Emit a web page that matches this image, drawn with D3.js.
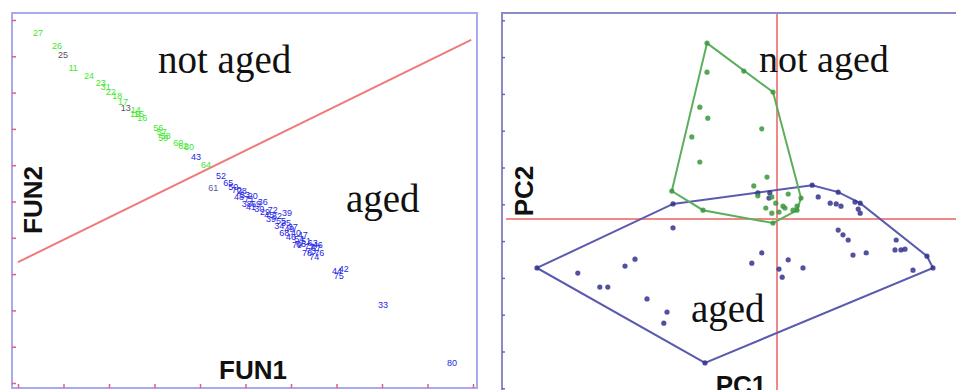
<!DOCTYPE html>
<html>
<head>
<meta charset="utf-8">
<script src="https://cdn.jsdelivr.net/npm/d3@7"></script>
<style>
  body { margin: 0; background: #fff; }
  svg { display: block; }
</style>
</head>
<body>
<div id="zone_graphique"></div>
<script>
// ---- donnees : panneau gauche (analyse discriminante) ----
var fun1NonVieilli = [0.44, 0.86, 0.99, 1.21, 1.56, 1.82, 1.93, 2.04, 2.18, 2.31, 2.37, 2.59, 2.66, 2.73, 2.57, 3.08, 3.16, 3.25, 3.19, 3.52, 3.63, 3.76, 4.13];
var fun2NonVieilli = [9.64, 9.28, 9.04, 8.68, 8.46, 8.26, 8.15, 8.02, 7.91, 7.74, 7.58, 7.52, 7.41, 7.30, 7.41, 7.02, 6.91, 6.80, 6.75, 6.61, 6.53, 6.50, 6.01];
var nomsNonVieilli = ["27", "26", "25", "11", "24", "23", "31", "22", "18", "17", "13", "14", "15", "16", "19", "56", "57", "58", "59", "60", "62", "80", "64"];
var grisNonVieilli = ["25", "13"];

var fun1Vieilli = [3.91, 4.46, 4.29, 4.62, 4.73, 4.81, 4.92, 4.99, 4.86, 5.08, 5.16, 5.03, 5.12, 5.23, 5.30, 5.38, 5.43, 5.52, 5.60, 5.56, 5.69, 5.78, 5.74, 5.89, 5.96, 5.85, 6.04, 6.11, 6.00, 6.18, 6.26, 6.22, 6.33, 6.40, 6.48, 6.44, 6.55, 6.62, 6.35, 6.51, 6.13, 5.91, 6.59, 7.01, 7.16, 7.05, 8.02, 9.54];
var fun2Vieilli = [6.23, 5.70, 5.37, 5.51, 5.40, 5.32, 5.29, 5.18, 5.12, 5.07, 5.15, 4.93, 4.85, 4.93, 4.79, 4.99, 4.71, 4.63, 4.77, 4.52, 4.60, 4.46, 4.33, 4.41, 4.24, 4.13, 4.30, 4.13, 4.02, 3.97, 4.08, 3.83, 3.91, 3.75, 3.86, 3.64, 3.72, 3.58, 3.58, 3.47, 3.80, 4.68, 3.80, 3.09, 3.14, 2.95, 2.15, 0.55];
var nomsVieilli = ["43", "52", "61", "65", "50", "70", "28", "53", "48", "71", "20", "38", "41", "69", "30", "36", "29", "45", "72", "39", "32", "55", "34", "35", "49", "68", "37", "40", "46", "54", "47", "66", "51", "77", "63", "73", "67", "76", "78", "74", "79", "39", "46", "44", "42", "75", "33", "80"];

// droite de separation
var ligneFun1 = [0, 9.96];
var ligneFun2 = [3.33, 9.45];

var graduationsFun1 = [0, 1, 2, 3, 4, 5, 6, 7, 8, 9, 10];
var graduationsFun2 = [0, 1, 2, 3, 4, 5, 6, 7, 8, 9, 10];

// ---- donnees : panneau droit (ACP) ----
var pc1Enveloppe1 = [-1.75, -0.10, 0.60, 0.50, -0.10, -1.85, -2.63];
var pc2Enveloppe1 = [4.78, 3.45, 0.57, 0.24, -0.11, 0.24, 0.76];
var pc1Points1 = [-1.75, -0.83, -1.93, -1.73, -0.38, -2.13, -1.93, -0.25, -0.58, -0.48, -0.13, 0.28, -0.13, 0.05, 0.15, 0.20, 0.40, 0.50, -0.28, -0.03];
var pc2Points1 = [3.99, 4.02, 3.04, 2.74, 2.45, 2.23, 1.55, 1.14, 0.90, 0.63, 0.60, 0.68, 0.16, 0.19, 0.35, 0.30, 0.24, 0.35, 0.30, 0.43];

var pc1Enveloppe2 = [-6.00, -2.60, 0.88, 1.53, 2.08, 3.75, 3.90, -1.80];
var pc2Enveloppe2 = [-1.33, 0.41, 0.92, 0.73, 0.43, -1.01, -1.33, -3.91];
var pc1Points2 = [-2.60, -4.98, -3.80, -3.55, -4.43, -4.23, -3.25, -2.75, -2.83, -0.63, -0.38, 0.05, 0.13, 0.28, 0.65, 1.03, 1.33, 1.48, 1.60, 1.95, 2.03, 2.08, 1.53, 1.65, 1.78, 1.90, 2.23, 2.98, 2.95, 3.10, 3.20, 3.40, -0.48, -0.18, -0.20];
var pc2Points2 = [-0.24, -1.47, -1.28, -1.09, -1.85, -1.85, -2.17, -2.53, -2.83, -1.20, -0.92, -1.36, -1.58, -1.11, -1.33, 0.60, 0.43, 0.41, 0.35, 0.46, 0.27, 0.16, -0.30, -0.43, -0.57, -0.98, -0.92, -0.57, -0.84, -0.84, -0.82, -1.39, 0.71, 0.71, 0.57];

var graduationsPc2 = [-4.6, -3.6, -2.6, -1.6, -0.6, 0.4, 1.4, 2.4, 3.4, 4.4, 5.4];

var largeur = 956;
var hauteur = 390;

var svg = d3.select("#zone_graphique")
    .append("svg")
        .attr("width", largeur)
        .attr("height", hauteur);

// =================== panneau gauche ===================
var xG = d3.scaleLinear().domain([0, 10]).range([18, 473]);
var yG = d3.scaleLinear().domain([0, 10]).range([383, 20]);

svg.append("defs").append("clipPath")
    .attr("id", "clipG")
    .append("rect")
        .attr("x", 12).attr("y", 13)
        .attr("width", 465).attr("height", 376);

var gauche = svg.append("g");

gauche.append("rect")
    .attr("x", 12).attr("y", 13)
    .attr("width", 465).attr("height", 375)
    .attr("fill", "none")
    .attr("stroke", "#a9a9ee")
    .attr("stroke-width", 2);

// petites graduations rouges
gauche.append("g")
    .attr("transform", "translate(12,0)")
    .call(d3.axisRight(yG).tickValues(graduationsFun2).tickSize(4).tickFormat(""))
    .call(function (g) { g.select(".domain").remove(); })
    .selectAll("line").attr("stroke", "#e0607a").attr("stroke-width", 1.5);

gauche.append("g")
    .attr("transform", "translate(0,388)")
    .call(d3.axisTop(xG).tickValues(graduationsFun1).tickSize(4).tickFormat(""))
    .call(function (g) { g.select(".domain").remove(); })
    .selectAll("line").attr("stroke", "#e0607a").attr("stroke-width", 1.5);

var nuageG = gauche.append("g").attr("clip-path", "url(#clipG)");

nuageG.append("line")
    .attr("x1", xG(ligneFun1[0])).attr("y1", yG(ligneFun2[0]))
    .attr("x2", xG(ligneFun1[1])).attr("y2", yG(ligneFun2[1]))
    .attr("stroke", "#f07a7a")
    .attr("stroke-width", 2);

nuageG.selectAll("text.vert")
    .data(d3.range(fun1NonVieilli.length))
    .enter()
    .append("text")
        .attr("class", "vert")
        .attr("x", function (i) { return xG(fun1NonVieilli[i]); })
        .attr("y", function (i) { return yG(fun2NonVieilli[i]) + 3; })
        .attr("text-anchor", "middle")
        .attr("font-family", "Liberation Sans, Arial, sans-serif")
        .attr("font-size", "9px")
        .attr("fill", function (i) { return grisNonVieilli.indexOf(nomsNonVieilli[i]) >= 0 ? "#555" : "#3ee82a"; })
        .text(function (i) { return nomsNonVieilli[i]; });

nuageG.selectAll("text.bleu")
    .data(d3.range(fun1Vieilli.length))
    .enter()
    .append("text")
        .attr("class", "bleu")
        .attr("x", function (i) { return xG(fun1Vieilli[i]); })
        .attr("y", function (i) { return yG(fun2Vieilli[i]) + 3; })
        .attr("text-anchor", "middle")
        .attr("font-family", "Liberation Sans, Arial, sans-serif")
        .attr("font-size", "9px")
        .attr("fill", function (i) { return nomsVieilli[i] === "61" ? "#5a5aa0" : "#2424e6"; })
        .text(function (i) { return nomsVieilli[i]; });

gauche.append("text")
    .attr("x", 158).attr("y", 73)
    .attr("font-family", "Liberation Serif, Times New Roman, serif")
    .attr("font-size", "39px")
    .attr("fill", "#111")
    .text("not aged");

gauche.append("text")
    .attr("x", 346).attr("y", 212)
    .attr("font-family", "Liberation Serif, Times New Roman, serif")
    .attr("font-size", "39px")
    .attr("fill", "#111")
    .text("aged");

gauche.append("text")
    .attr("x", 253).attr("y", 379)
    .attr("text-anchor", "middle")
    .attr("font-family", "Liberation Sans, Arial, sans-serif")
    .attr("font-weight", "bold")
    .attr("font-size", "26px")
    .attr("fill", "#111")
    .text("FUN1");

gauche.append("text")
    .attr("transform", "translate(42,200) rotate(-90)")
    .attr("text-anchor", "middle")
    .attr("font-family", "Liberation Sans, Arial, sans-serif")
    .attr("font-weight", "bold")
    .attr("font-size", "26px")
    .attr("fill", "#111")
    .text("FUN2");

// =================== panneau droit ===================
var xD = d3.scaleLinear().domain([-6.875, 4.475]).range([502, 956]);
var yD = d3.scaleLinear().domain([-4.6, 5.4]).range([388.3, 20.3]);

svg.select("defs").append("clipPath")
    .attr("id", "clipD")
    .append("rect")
        .attr("x", 502).attr("y", 13)
        .attr("width", 460).attr("height", 380);

var droite = svg.append("g");

droite.append("rect")
    .attr("x", 502).attr("y", 13)
    .attr("width", 470).attr("height", 400)
    .attr("fill", "none")
    .attr("stroke", "#8a8ac8")
    .attr("stroke-width", 2);

droite.append("g")
    .attr("transform", "translate(502,0)")
    .call(d3.axisRight(yD).tickValues(graduationsPc2).tickSize(3).tickFormat(""))
    .call(function (g) { g.select(".domain").remove(); })
    .selectAll("line").attr("stroke", "#6a6ab0").attr("stroke-width", 1.5);

var nuageD = droite.append("g").attr("clip-path", "url(#clipD)");

// croix des axes
nuageD.append("line")
    .attr("x1", 506).attr("x2", 956)
    .attr("y1", yD(0)).attr("y2", yD(0))
    .attr("stroke", "#f08888").attr("stroke-width", 2);
nuageD.append("line")
    .attr("x1", xD(0)).attr("x2", xD(0))
    .attr("y1", 14).attr("y2", 390)
    .attr("stroke", "#f08888").attr("stroke-width", 2);

var ligneEnv = d3.line()
    .x(function (d) { return xD(d[0]); })
    .y(function (d) { return yD(d[1]); })
    .curve(d3.curveLinearClosed);

var env1 = d3.zip(pc1Enveloppe1, pc2Enveloppe1);
var env2 = d3.zip(pc1Enveloppe2, pc2Enveloppe2);

nuageD.append("path")
    .attr("d", ligneEnv(env2))
    .attr("fill", "none")
    .attr("stroke", "#5a5aae")
    .attr("stroke-width", 2);

nuageD.append("path")
    .attr("d", ligneEnv(env1))
    .attr("fill", "none")
    .attr("stroke", "#5cae5c")
    .attr("stroke-width", 2);

nuageD.selectAll("circle.bleu")
    .data(env2.concat(d3.zip(pc1Points2, pc2Points2)))
    .enter()
    .append("circle")
        .attr("class", "bleu")
        .attr("cx", function (d) { return xD(d[0]); })
        .attr("cy", function (d) { return yD(d[1]); })
        .attr("r", 2.6)
        .attr("fill", "#33338f")
        .attr("opacity", 0.85);

nuageD.selectAll("circle.vert")
    .data(env1.concat(d3.zip(pc1Points1, pc2Points1)))
    .enter()
    .append("circle")
        .attr("class", "vert")
        .attr("cx", function (d) { return xD(d[0]); })
        .attr("cy", function (d) { return yD(d[1]); })
        .attr("r", 2.6)
        .attr("fill", "#3b983b")
        .attr("opacity", 0.85);

droite.append("text")
    .attr("x", 759).attr("y", 72)
    .attr("font-family", "Liberation Serif, Times New Roman, serif")
    .attr("font-size", "38px")
    .attr("fill", "#111")
    .text("not aged");

droite.append("text")
    .attr("x", 691).attr("y", 322)
    .attr("font-family", "Liberation Serif, Times New Roman, serif")
    .attr("font-size", "39px")
    .attr("fill", "#111")
    .text("aged");

droite.append("text")
    .attr("x", 741).attr("y", 394)
    .attr("text-anchor", "middle")
    .attr("font-family", "Liberation Sans, Arial, sans-serif")
    .attr("font-weight", "bold")
    .attr("font-size", "26px")
    .attr("fill", "#111")
    .text("PC1");

droite.append("text")
    .attr("transform", "translate(533,191) rotate(-90)")
    .attr("text-anchor", "middle")
    .attr("font-family", "Liberation Sans, Arial, sans-serif")
    .attr("font-weight", "bold")
    .attr("font-size", "26px")
    .attr("fill", "#111")
    .text("PC2");
</script>
</body>
</html>
